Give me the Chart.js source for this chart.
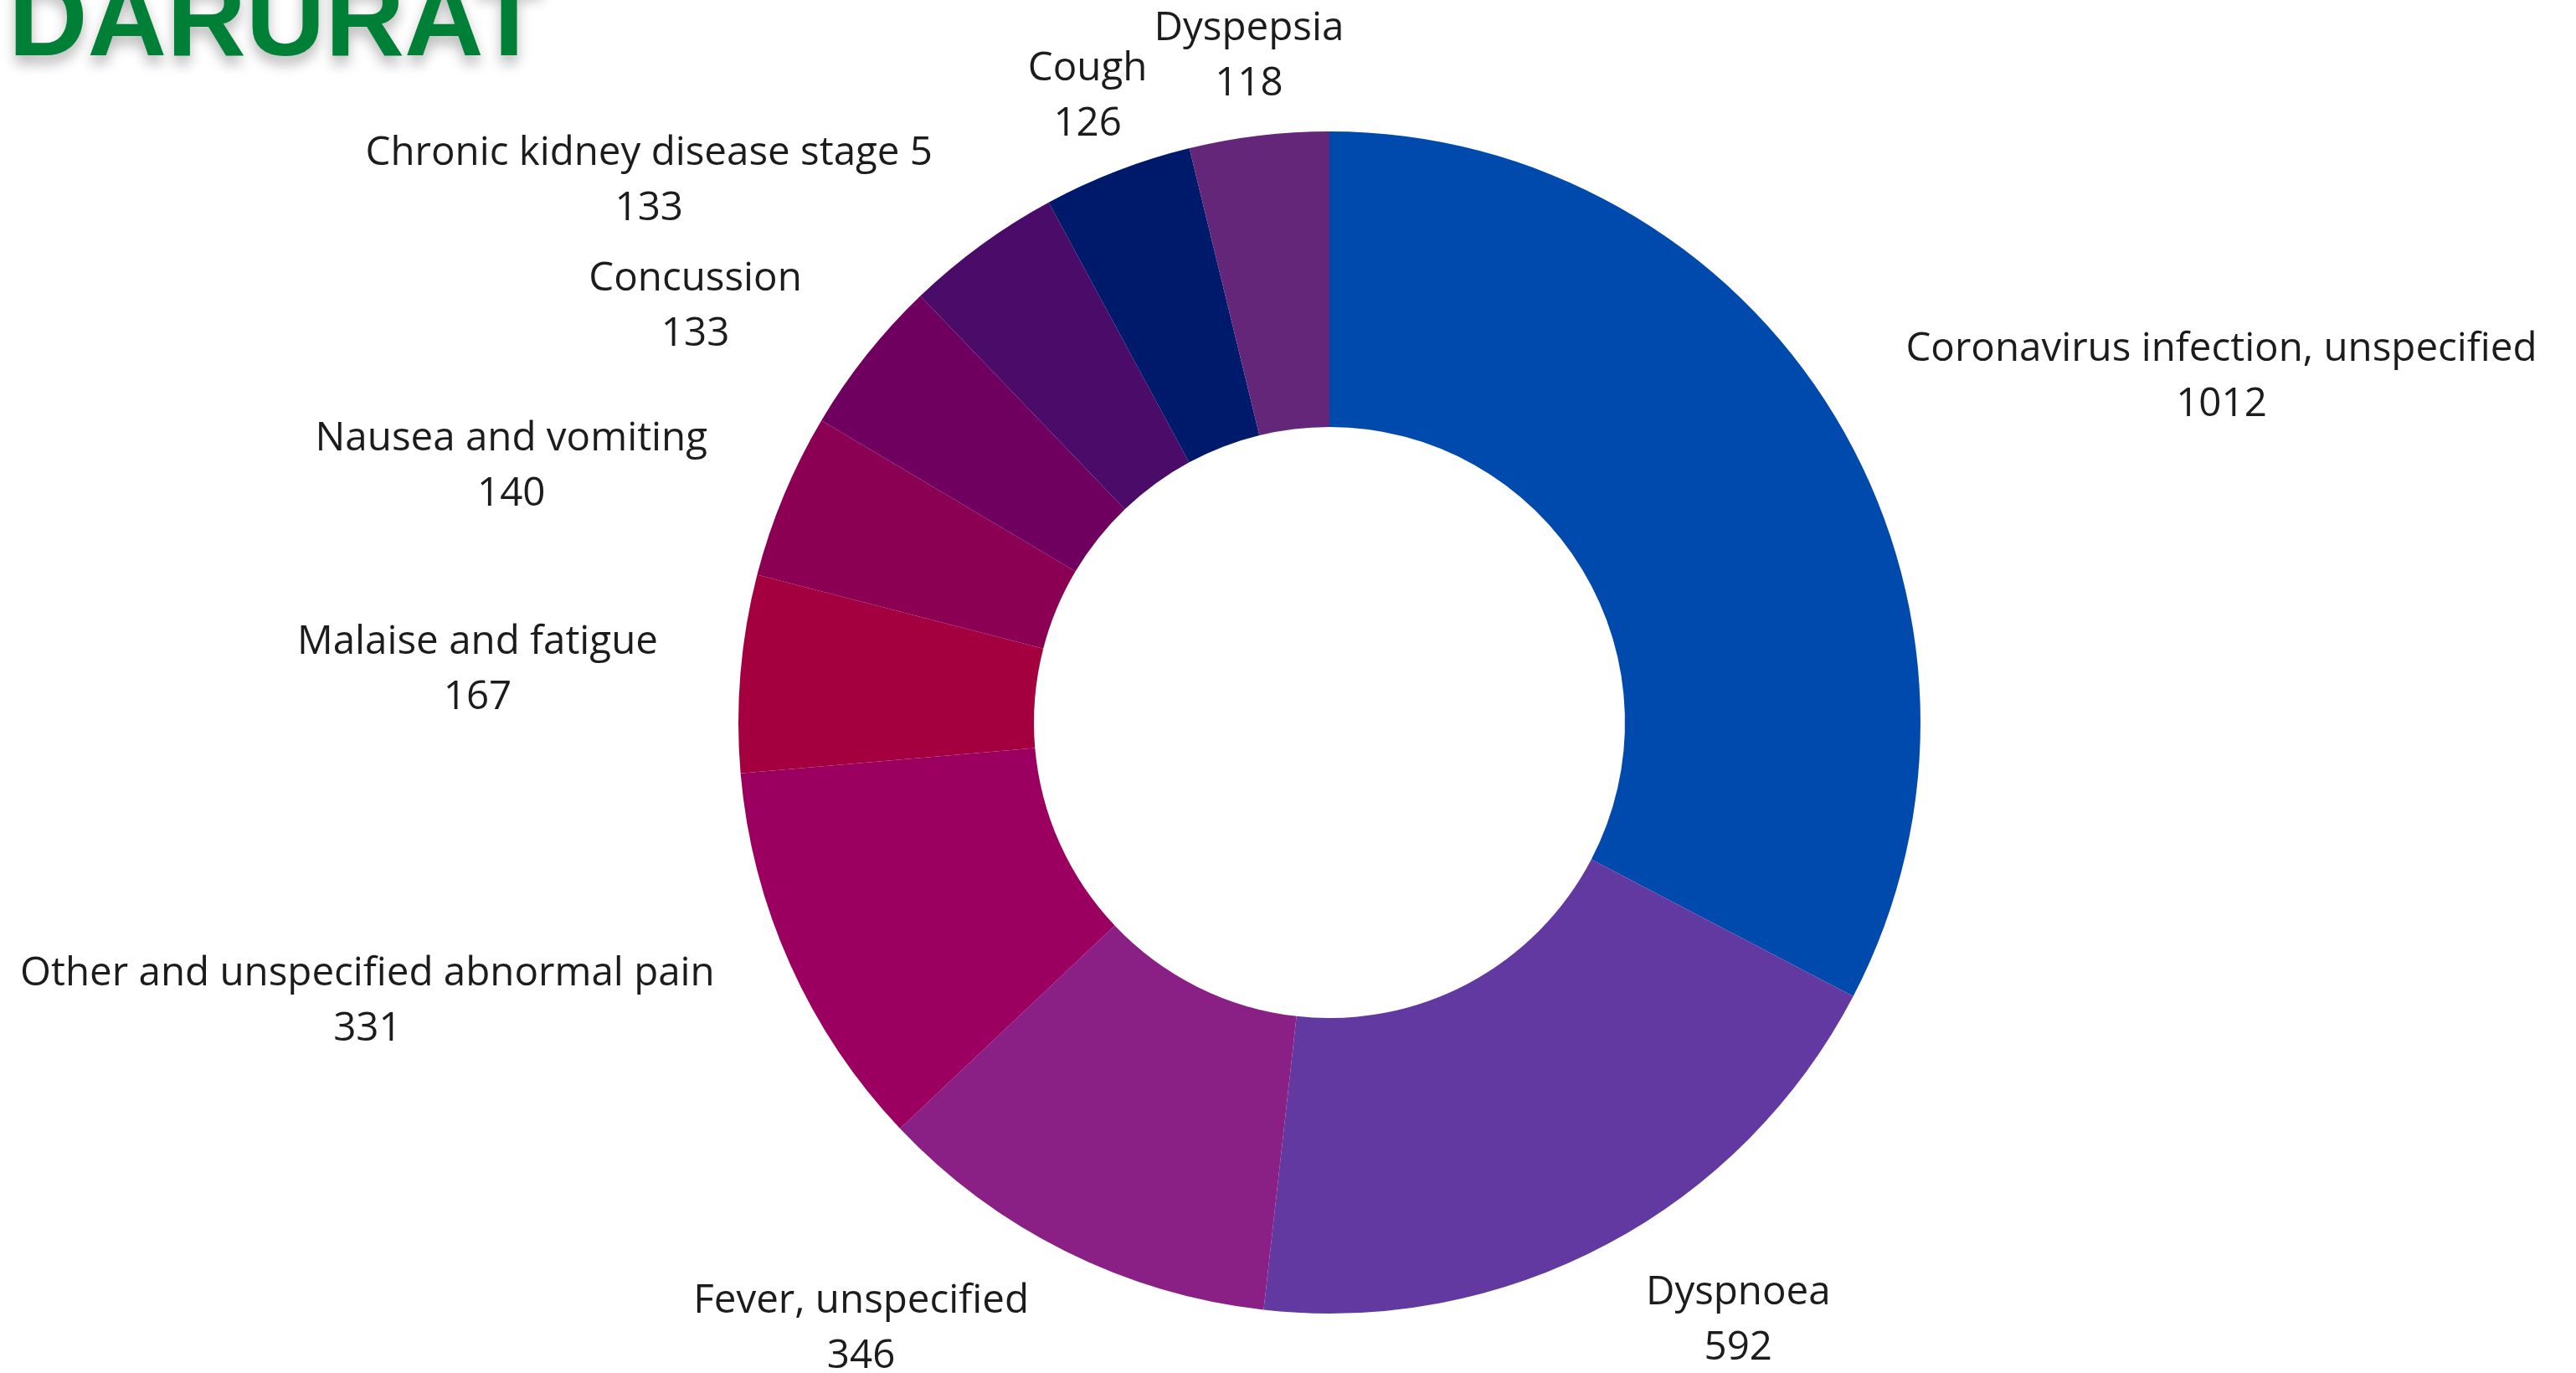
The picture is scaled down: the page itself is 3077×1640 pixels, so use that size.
<!DOCTYPE html>
<html>
<head>
<meta charset="utf-8">
<script src="https://cdn.jsdelivr.net/npm/chart.js@4/dist/chart.umd.min.js"></script>
<style>
  html, body { margin: 0; padding: 0; background: #ffffff; }
  #wrap { position: relative; width: 3077px; height: 1640px; }
</style>
</head>
<body>
<div id="wrap"><canvas id="chart" width="3077" height="1640"></canvas></div>
<script>
// Data (clockwise from 12 o'clock)
const categories = [
    'Coronavirus infection, unspecified',
    'Dyspnoea',
    'Fever, unspecified',
    'Other and unspecified abnormal pain',
    'Malaise and fatigue',
    'Nausea and vomiting',
    'Concussion',
    'Chronic kidney disease stage 5',
    'Cough',
    'Dyspepsia'
];
const counts = [1012, 592, 346, 331, 167, 140, 133, 133, 126, 118];
const sliceColors = [
    '#004aad', '#6239a0', '#8a2086', '#9b0060', '#a4003f',
    '#8b0052', '#700060', '#4b0b68', '#001a6b', '#632678'
];
const titleText = 'DARURAT';

// Labels outside the ring: name + value, pushed away from the slice
const outerLabels = {
    id: 'outerLabels',
    afterDatasetsDraw(chart) {
        const ctx = chart.ctx;
        const meta = chart.getDatasetMeta(0);
        const lineGap = 66;
        ctx.save();
        ctx.font = '47.5px "Open Sans"';
        ctx.fillStyle = '#1c1c1c';
        ctx.textBaseline = 'middle';
        ctx.textAlign = 'center';
        meta.data.forEach((arc, i) => {
            const mid = (arc.startAngle + arc.endAngle) / 2;
            const r = arc.outerRadius * 1.14;
            const ax = arc.x + Math.cos(mid) * r;
            const ay = arc.y + Math.sin(mid) * r + 4;
            const lines = [categories[i], String(counts[i])];
            const w = Math.max(...lines.map(t => ctx.measureText(t).width));
            let cx = ax;
            const h = Math.cos(mid);
            if (h > 0.4) cx = ax + w / 2;
            else if (h < -0.4) cx = ax - w / 2;
            ctx.fillText(lines[0], cx, ay - lineGap / 2);
            ctx.fillText(lines[1], cx, ay + lineGap / 2);
        });
        ctx.restore();
    }
};

// Green heading in the top-left corner, partly cut off
const heading = {
    id: 'heading',
    afterDraw(chart) {
        const ctx = chart.ctx;
        ctx.save();
        ctx.font = 'bold 131px "Liberation Sans"';
        ctx.fillStyle = '#008037';
        ctx.textAlign = 'left';
        ctx.textBaseline = 'alphabetic';
        ctx.shadowColor = 'rgba(0, 0, 0, 0.28)';
        ctx.shadowBlur = 16;
        ctx.shadowOffsetY = 10;
        ctx.fillText(titleText, 10, 66);
        ctx.restore();
    }
};

new Chart(document.getElementById('chart').getContext('2d'), {
    type: 'doughnut',
    data: {
        labels: categories,
        datasets: [{
            data: counts,
            backgroundColor: sliceColors,
            borderWidth: 0
        }]
    },
    options: {
        responsive: false,
        devicePixelRatio: 1,
        animation: false,
        cutout: '50%',
        layout: {
            padding: { left: 882, right: 783, top: 157, bottom: 71 }
        },
        plugins: {
            legend: { display: false },
            tooltip: { enabled: false },
            title: { display: false }
        }
    },
    plugins: [outerLabels, heading]
});
</script>
</body>
</html>
